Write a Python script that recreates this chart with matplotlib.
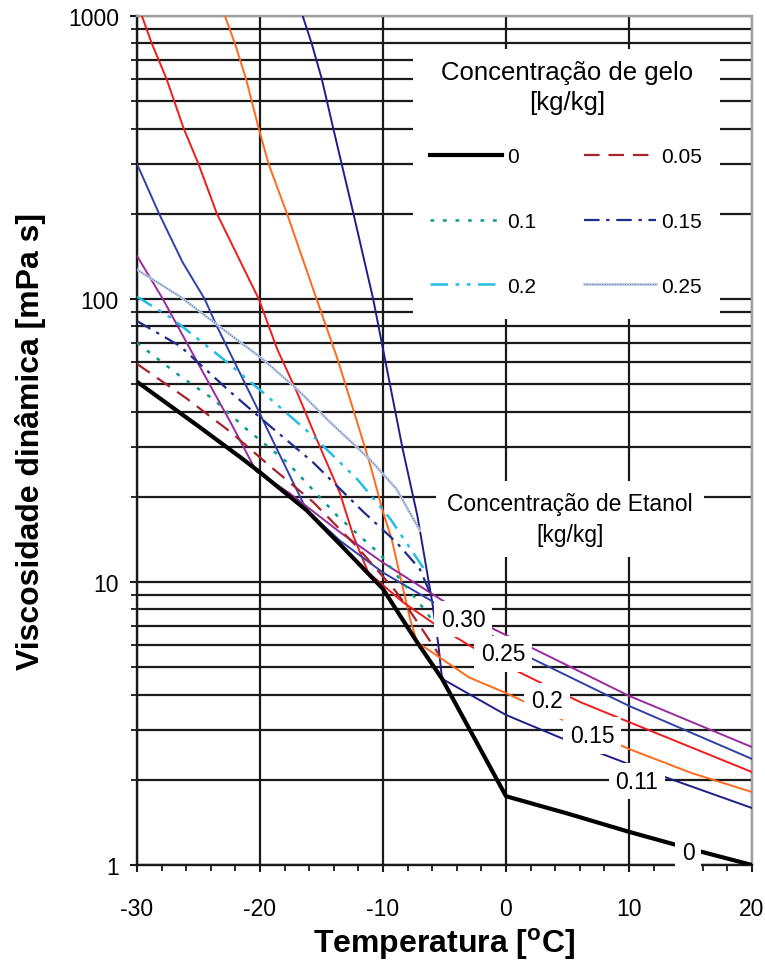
import matplotlib
matplotlib.use("Agg")
import matplotlib.pyplot as plt
from matplotlib.patches import Rectangle
from matplotlib.ticker import LogLocator, MultipleLocator, NullFormatter, FixedLocator, FixedFormatter

plt.rcParams['font.family'] = ['Liberation Sans', 'DejaVu Sans']
plt.rcParams['mathtext.fontset'] = 'custom'
plt.rcParams['mathtext.bf'] = 'Liberation Sans:bold'
plt.rcParams['mathtext.rm'] = 'Liberation Sans'

# ---- ice-free curve: freezing line below 0 C, pure water above ----
t_gelo_000 = [-30, -25, -21.6, -20, -16.2, -13.5, -10, -7.24, -5.2, -2.5, 0, 5, 10, 15, 20]
mu_gelo_000 = [51, 35.5, 27.6, 24.4, 17.9, 13.6, 9.45, 6.14, 4.55, 2.77, 1.75, 1.52, 1.31, 1.14, 1.0]

# ---- constant ice fraction curves [kg/kg] ----
t_gelo_005 = [-30, -25.9, -22.4, -19.2, -15.7, -12.1, -8.9, -7.55, -6.3, -5.4]
mu_gelo_005 = [59, 44.3, 33.9, 25.7, 19.2, 13.3, 9.2, 7.6, 6.3, 5.5]

t_gelo_010 = [-30, -26.5, -23.8, -21.1, -17.8, -13.7, -10.2, -8.6, -7.2, -5.75]
mu_gelo_010 = [70, 53.4, 44.3, 34.7, 26.5, 17.1, 12.5, 10.2, 8.6, 7.1]

t_gelo_015 = [-30, -26.5, -22.4, -19.2, -15.7, -11.6, -8.9, -7.0, -6.1]
mu_gelo_015 = [83.6, 68.2, 46.9, 35.6, 26.5, 17.7, 13.8, 11.1, 9.0]

t_gelo_020 = [-30, -27.1, -23.0, -19.8, -15.7, -12.1, -9.4, -6.4]
mu_gelo_020 = [102, 85, 61.4, 46.9, 32.8, 23.1, 16.7, 10.7]

t_gelo_025 = [-30, -26.5, -23.3, -19.8, -17.0, -14.3, -11.1, -8.9, -7.0]
mu_gelo_025 = [127, 102, 80, 61.4, 48.1, 36.7, 27.2, 21.3, 15.2]

# ---- constant ethanol concentration curves [kg/kg] ----
t_et_011 = [-16.53, -15.8, -14.98, -14.04, -13.36, -12.4, -10.8, -10.0, -8.4, -7.2, -6.0, -5.5, -5.2,
            0, 5, 10, 20]
mu_et_011 = [1000, 800, 600, 400, 300, 200, 100, 66.5, 29.5, 17.1, 8.5, 6.0, 4.55,
             3.39, 2.75, 2.27, 1.59]

t_et_015 = [-22.85, -22.04, -21.14, -20.1, -19.3, -17.8, -15.4, -13.7, -12.1, -11.1, -10.0, -9.3, -8.4,
            -7.8, -7.24, -3.0, 0, 5, 10, 15, 20]
mu_et_015 = [1000, 800, 600, 400, 300, 200, 100, 61.4, 36.7, 26.5, 17.7, 14.2, 9.6,
             7.4, 6.14, 4.6, 4.05, 3.2, 2.57, 2.12, 1.81]

t_et_020 = [-29.6, -28.8, -27.6, -26.2, -25.0, -23.5, -20.1, -18.6, -17.0, -15.4, -13.5, -12.4, -11.2,
            -8.4, -5.6, -2.9, 0, 6.0, 10, 20]
mu_et_020 = [1000, 800, 600, 400, 300, 200, 100, 66.5, 46.9, 32, 20.6, 14.5, 10.8,
             8.5, 7.0, 5.94, 5.06, 3.77, 3.2, 2.13]

t_et_025 = [-30.0, -28.2, -26.3, -24.5, -23.5, -20.2, -18.9, -16.2, -13.5, -10.0, -5.9, 0, 2.2, 10, 20]
mu_et_025 = [300, 200, 135, 100, 80, 40.9, 31.2, 17.9, 14.0, 10.8, 8.5, 6.05, 5.34, 3.65, 2.37]

t_et_030 = [-30.0, -27.9, -25.1, -22.4, -20.3, -17.6, -13.5, -10.0, -5.1, -1.0, 10, 20]
mu_et_030 = [142, 100, 59.9, 36.7, 24.6, 20.6, 15.0, 11.7, 8.57, 6.82, 3.96, 2.61]

# inline labels of the ethanol curves (text, T, mu)
etanol_labels = ["0.30", "0.25", "0.2", "0.15", "0.11", "0"]
etanol_label_t = [-3.5, -0.24, 3.33, 7.0, 10.65, 14.8]
etanol_label_mu = [7.4, 5.57, 3.8, 2.86, 1.98, 1.11]

gelo_labels = ['0', '0.1', '0.2', '0.05', '0.15', '0.25']

x_ticks = [-30, -20, -10, 0, 10, 20]
y_ticks = [1, 10, 100, 1000]

NAVY = '#1f1f8a'
ORANGE = '#ff6a1a'
RED = '#f01c1c'
BLUE = '#3040a8'
PURPLE = '#9a2a9e'
GRID = '#1a1a1a'

W, H = 765, 970
fig = plt.figure(figsize=(W / 100, H / 100), dpi=100)
ax = fig.add_axes([137 / W, 104 / H, 615 / W, 849 / H])
ax.set_yscale('log')
ax.set_xlim(-30, 20)
ax.set_ylim(1, 1000)

# grid: vertical at major x, horizontal at every decade subdivision
ax.grid(True, which='major', axis='x', color=GRID, lw=1.6, zorder=0)
ax.grid(True, which='both', axis='y', color=GRID, lw=1.6, zorder=0)
ax.set_axisbelow(True)

# ethanol curves
ax.plot(t_et_011, mu_et_011, color=NAVY, lw=1.4, zorder=3)
ax.plot(t_et_015, mu_et_015, color=ORANGE, lw=1.4, zorder=3)
ax.plot(t_et_020, mu_et_020, color=RED, lw=1.4, zorder=3)
ax.plot(t_et_025, mu_et_025, color=BLUE, lw=1.4, zorder=3)
ax.plot(t_et_030, mu_et_030, color=PURPLE, lw=1.4, zorder=3)

# ice fraction curves
h0, = ax.plot(t_gelo_000, mu_gelo_000, color='black', lw=3.0, zorder=4)
h05, = ax.plot(t_gelo_005, mu_gelo_005, color='#a8232b', lw=1.6, dashes=(7, 4), zorder=4)
h10, = ax.plot(t_gelo_010, mu_gelo_010, color='#0f9a8e', lw=1.8, dashes=(1.5, 3.5), zorder=4)
h15, = ax.plot(t_gelo_015, mu_gelo_015, color='#202c8c', lw=1.6, dashes=(7, 3, 1.5, 3), zorder=4)
h20, = ax.plot(t_gelo_020, mu_gelo_020, color='#25bde6', lw=1.8, dashes=(7, 3, 1.5, 3, 1.5, 3), zorder=4)
h25a, = ax.plot(t_gelo_025, mu_gelo_025, color='#bccbe2', lw=1.9, zorder=4)
h25b, = ax.plot(t_gelo_025, mu_gelo_025, color='#3a5aa8', lw=0.7, dashes=(0.8, 1.8), zorder=4)

# axis formatting
ax.xaxis.set_major_locator(FixedLocator(x_ticks))
ax.xaxis.set_major_formatter(FixedFormatter([str(v) for v in x_ticks]))
ax.xaxis.set_minor_locator(MultipleLocator(2))
ax.yaxis.set_major_locator(FixedLocator(y_ticks))
ax.yaxis.set_major_formatter(FixedFormatter([str(v) for v in y_ticks]))
ax.yaxis.set_minor_locator(LogLocator(base=10, subs=range(2, 10)))
ax.yaxis.set_minor_formatter(NullFormatter())
ax.tick_params(which='major', direction='out', length=5, width=1.5, labelsize=16.5, color=GRID)
ax.tick_params(which='minor', direction='out', length=4, width=1.3, color=GRID)
ax.tick_params(axis='x', which='major', pad=18)
ax.tick_params(axis='y', which='major', pad=8)

for side in ['left', 'bottom']:
    ax.spines[side].set_color(GRID)
    ax.spines[side].set_linewidth(1.7)
for side in ['top', 'right']:
    ax.spines[side].set_color('#a0a0a0')
    ax.spines[side].set_linewidth(1.7)

ax.set_xlabel(r'Temperatura [$^\mathbf{o}$C]', fontsize=23, fontweight='bold', labelpad=4)
ax.set_ylabel('Viscosidade dinâmica [mPa s]', fontsize=23, fontweight='bold', labelpad=16)

# inline labels for ethanol concentration
for txt, tx, ty in zip(etanol_labels, etanol_label_t, etanol_label_mu):
    ax.text(tx, ty, txt, fontsize=16.5, ha='center', va='center', zorder=6, clip_on=False,
            bbox=dict(facecolor='white', edgecolor='none', pad=5))

ax.text(5.2, 16.7, 'Concentração de Etanol\n[kg/kg]', fontsize=16.5, ha='center', va='center',
        linespacing=1.45, multialignment='center', zorder=6,
        bbox=dict(facecolor='white', edgecolor='none', pad=8))

# legend panel: white background, title and two-column key
ax.add_patch(Rectangle(((413 - 137) / 615, (866 - 320) / 849), 307 / 615, 270 / 849,
                       transform=ax.transAxes, facecolor='white', edgecolor='none', zorder=6))
ax.text((567 - 137) / 615, (866 - 88) / 849, 'Concentração de gelo\n[kg/kg]', transform=ax.transAxes,
        fontsize=18.5, ha='center', va='center', multialignment='center', linespacing=1.35, zorder=7)

leg = ax.legend([h0, h10, h20, h05, h15, (h25a, h25b)], gelo_labels,
                ncol=2, loc='upper left', bbox_to_anchor=(430 / W, 1 - 148 / H),
                bbox_transform=fig.transFigure, borderaxespad=0, borderpad=0,
                fontsize=15, handlelength=3.45, handletextpad=0.25, columnspacing=2.3,
                labelspacing=2.2, frameon=False)
leg.set_zorder(8)

fig.savefig('out.png', dpi=100)
